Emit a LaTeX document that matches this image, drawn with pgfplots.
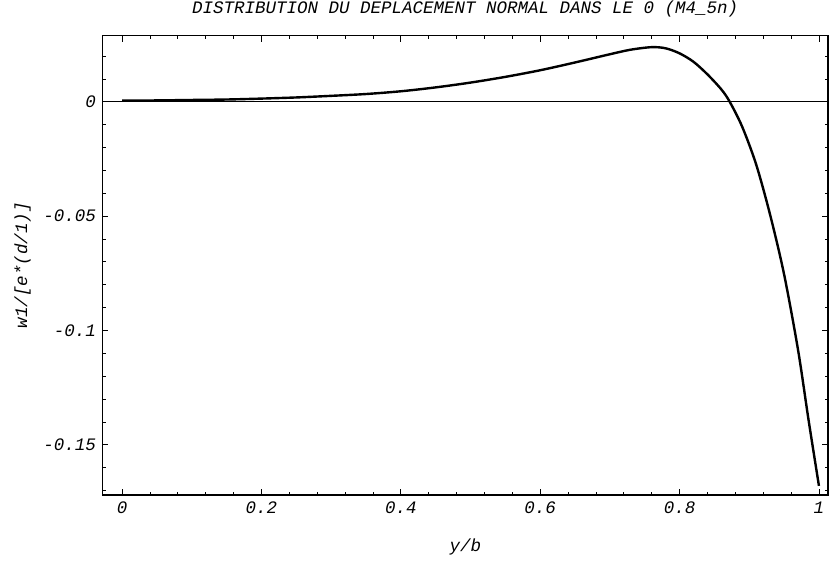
\documentclass[border=0pt]{standalone}
\usepackage{fontspec}
\setmainfont{Liberation Mono}
\usepackage{pgfplots}
\pgfplotsset{compat=1.18}
\newcommand{\cf}{\fontsize{17.5bp}{20bp}\selectfont\itshape}

\begin{document}
\begin{tikzpicture}
\useasboundingbox (0,0) rectangle (832bp,-562bp);
\begin{axis}[
    at={(102.5bp,-495bp)}, anchor=south west,
    scale only axis,
    width=725.5bp, height=459.5bp,
    xmin=-0.028, xmax=1.013,
    ymin=-0.172, ymax=0.029,
    xtick={0,0.2,0.4,0.6,0.8,1},
    xticklabels={0,0.2,0.4,0.6,0.8,1},
    ytick={-0.15,-0.1,-0.05,0},
    yticklabels={-0.15,-0.1,-0.05,0},
    minor xtick={0.04,0.08,...,0.97},
    minor ytick={-0.17,-0.16,...,0.025},
    tick align=inside,
    major tick length=6bp,
    minor tick length=3.5bp,
    every tick/.style={black, line width=0.7bp},
    axis line style={line width=1.3bp},
    tick label style={font=\cf},
    xticklabel style={yshift=-3bp},
    yticklabel style={xshift=-3bp},
    title={DISTRIBUTION DU DEPLACEMENT NORMAL DANS LE 0 (M4\_5n)},
    title style={font=\cf, at={(axis description cs:0.5,1.0446)}, anchor=center},
    xlabel={y/b},
    xlabel style={font=\cf, at={(axis description cs:0.5,-0.113)}, anchor=center},
    ylabel={w1/[e*(d/1)]},
    ylabel style={font=\cf, at={(axis description cs:-0.11,0.5)}, anchor=center, rotate=0},
]
\addplot[black, line width=1bp] coordinates {(-0.028,0) (1.013,0)};
\addplot[black, line width=2.4bp, smooth, tension=0.5] coordinates {
(0,0.0005) (0.05,0.0006) (0.1,0.0008) (0.15,0.0010) (0.2,0.0014)
(0.25,0.0019) (0.3,0.0026) (0.35,0.0034) (0.4,0.0046) (0.45,0.0063)
(0.5,0.0084) (0.55,0.0109) (0.6,0.0138) (0.65,0.0172) (0.7,0.0208)
(0.73,0.0228) (0.76,0.0239) (0.78,0.0234) (0.8,0.0212) (0.82,0.0175)
(0.84,0.0120) (0.86,0.0054) (0.872,0.0) (0.89,-0.0110) (0.91,-0.0275)
(0.93,-0.0495) (0.95,-0.0755) (0.97,-0.1085) (0.985,-0.1390) (1.0,-0.1680)
};
\end{axis}
\end{tikzpicture}
\end{document}
